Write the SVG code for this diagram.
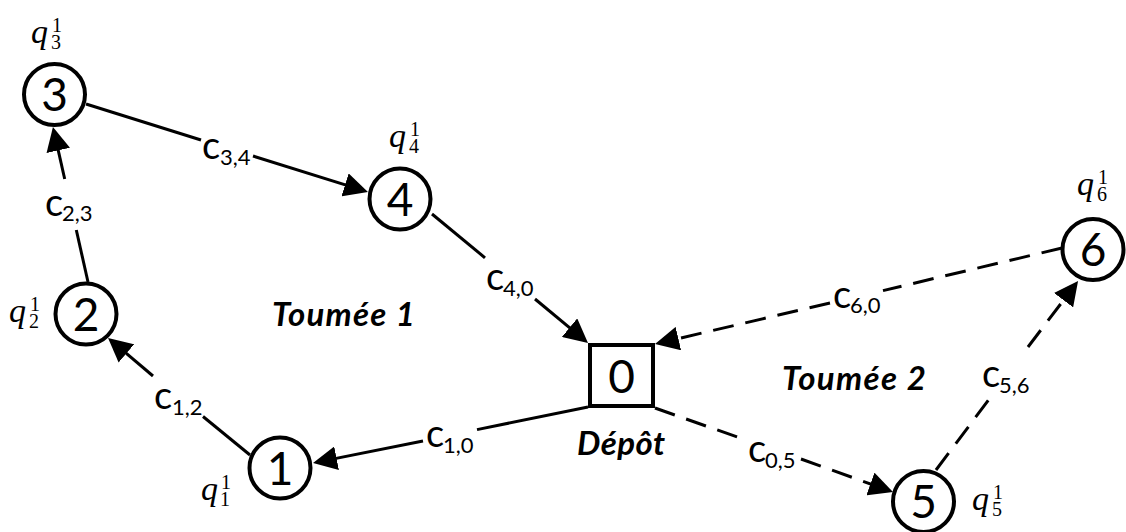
<svg xmlns="http://www.w3.org/2000/svg" width="1126" height="532" viewBox="0 0 1126 532">
<style>
.nd{fill:#fff;stroke:#000;stroke-width:4}
.num{font-family:Lato,"Liberation Sans",sans-serif;font-size:46px;text-anchor:middle;fill:#000}
.q{font-family:"Liberation Serif",serif;font-style:italic;font-size:34px;fill:#000}
.qs{font-style:normal;font-size:20px}
.c{font-family:Lato,"Liberation Sans",sans-serif;font-size:38px;fill:#000}
.cs{font-size:22px}
.t{font-family:Lato,"Liberation Sans",sans-serif;font-size:33px;font-weight:bold;font-style:italic;fill:#000}
.ln{stroke:#000;stroke-width:3;fill:none}
.dash{stroke-dasharray:21 12}
</style>
<defs>
<marker id="ah" markerUnits="userSpaceOnUse" markerWidth="24" markerHeight="24" refX="12" refY="12" orient="auto" viewBox="0 0 24 24">
<path d="M0,0 L24,12 L0,24 z" fill="#000" stroke="none"/>
</marker>
</defs>
<rect width="1126" height="532" fill="#fff"/>
<g id="connectors">
<line class="ln" x1="86" y1="104" x2="201" y2="140"/>
<line class="ln" x1="253" y1="156" x2="356.5" y2="188.4" marker-end="url(#ah)"/>
<line class="ln" x1="88" y1="282" x2="76.3" y2="230"/>
<line class="ln" x1="64.7" y1="179" x2="55.6" y2="138.7" marker-end="url(#ah)"/>
<line class="ln" x1="250" y1="455" x2="203" y2="416.5"/>
<line class="ln" x1="153" y1="376" x2="117.2" y2="345.7" marker-end="url(#ah)"/>
<line class="ln" x1="588" y1="407" x2="477" y2="429.6"/>
<line class="ln" x1="423" y1="441" x2="324.8" y2="460.6" marker-end="url(#ah)"/>
<line class="ln" x1="432" y1="214" x2="485" y2="257.8"/>
<line class="ln" x1="535" y1="299" x2="578.8" y2="335.3" marker-end="url(#ah)"/>
<line class="ln dash" x1="1062" y1="248" x2="883" y2="290.6"/>
<line class="ln dash" x1="830" y1="303" x2="666.7" y2="341.3" marker-end="url(#ah)"/>
<line class="ln dash" x1="655" y1="408" x2="748" y2="440.8"/>
<line class="ln dash" x1="801" y1="459" x2="881.7" y2="488" marker-end="url(#ah)"/>
<line class="ln dash" x1="936" y1="470" x2="990" y2="398"/>
<line class="ln dash" x1="1028" y1="347" x2="1070.8" y2="290.6" marker-end="url(#ah)"/>
</g>
<g id="edge-labels">
<text class="c" x="202" y="159">c<tspan class="cs" x="220" y="165">3,4</tspan></text>
<text class="c" x="45" y="216">c<tspan class="cs" x="62" y="221">2,3</tspan></text>
<text class="c" x="154" y="409">c<tspan class="cs" x="172" y="415">1,2</tspan></text>
<text class="c" x="426" y="447">c<tspan class="cs" x="443" y="453">1,0</tspan></text>
<text class="c" x="486" y="290">c<tspan class="cs" x="503" y="296">4,0</tspan></text>
<text class="c" x="833" y="308">c<tspan class="cs" x="850" y="313">6,0</tspan></text>
<text class="c" x="748" y="462">c<tspan class="cs" x="765" y="468">0,5</tspan></text>
<text class="c" x="982" y="387">c<tspan class="cs" x="999" y="393">5,6</tspan></text>
</g>
<g id="node0">
<rect class="nd" x="590" y="345" width="63" height="61"/>
<text class="num" x="621.5" y="393">0</text>
<text class="t" x="577" y="455" textLength="88">Dépôt</text>
</g>
<g id="node1">
<circle class="nd" cx="280" cy="468" r="30.5"/>
<text class="num" x="280" y="484.5">1</text>
<text class="q" x="201" y="500">q<tspan class="qs" x="221" y="489">1</tspan><tspan class="qs" x="220" y="506">1</tspan></text>
</g>
<g id="node2">
<circle class="nd" cx="86" cy="314" r="30.5"/>
<text class="num" x="86" y="330.5">2</text>
<text class="q" x="9" y="322">q<tspan class="qs" x="30" y="311">1</tspan><tspan class="qs" x="29" y="328">2</tspan></text>
</g>
<g id="node3">
<circle class="nd" cx="54.5" cy="94.5" r="30.5"/>
<text class="num" x="54.5" y="111">3</text>
<text class="q" x="31" y="43">q<tspan class="qs" x="52" y="32">1</tspan><tspan class="qs" x="51" y="49">3</tspan></text>
</g>
<g id="node4">
<circle class="nd" cx="400" cy="199" r="30.5"/>
<text class="num" x="400" y="215.5">4</text>
<text class="q" x="389" y="147">q<tspan class="qs" x="410" y="136">1</tspan><tspan class="qs" x="409" y="153">4</tspan></text>
</g>
<g id="node5">
<circle class="nd" cx="923.5" cy="501.5" r="30.5"/>
<text class="num" x="923.5" y="518">5</text>
<text class="q" x="972" y="510">q<tspan class="qs" x="993" y="499">1</tspan><tspan class="qs" x="992" y="516">5</tspan></text>
</g>
<g id="node6">
<circle class="nd" cx="1093" cy="249.5" r="30.5"/>
<text class="num" x="1093" y="266">6</text>
<text class="q" x="1077" y="195">q<tspan class="qs" x="1098" y="184">1</tspan><tspan class="qs" x="1097" y="201">6</tspan></text>
</g>
<g id="tour-labels">
<text class="t" x="272" y="326" textLength="143">Toumée 1</text>
<text class="t" x="782" y="390" textLength="144">Toumée 2</text>
</g>
</svg>
